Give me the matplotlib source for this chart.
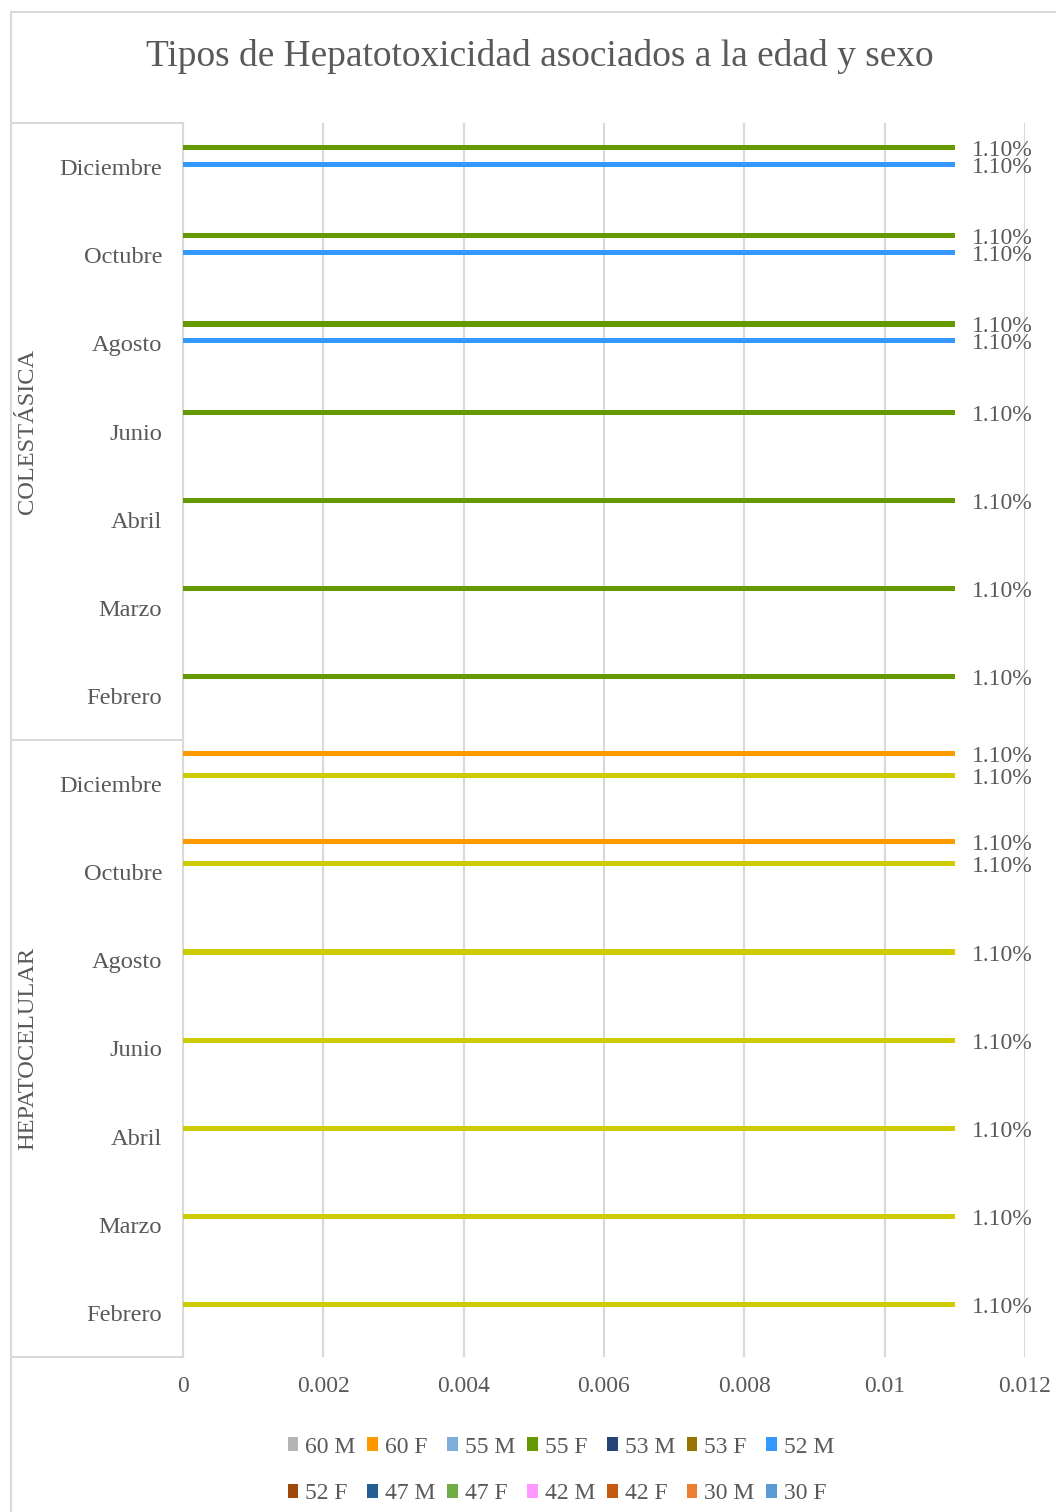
import numpy as np
import matplotlib
matplotlib.use("Agg")
import matplotlib.pyplot as plt
import matplotlib.transforms as mtransforms
from matplotlib.patches import Rectangle, Patch
from matplotlib.lines import Line2D

plt.rcParams["font.family"] = ["Liberation Serif", "DejaVu Serif"]

# ---- data -------------------------------------------------------------
title = "Tipos de Hepatotoxicidad asociados a la edad y sexo"
months = ["Febrero", "Marzo", "Abril", "Junio", "Agosto", "Octubre", "Diciembre"]
groups = ["HEPATOCELULAR", "COLESTÁSICA"]          # bottom group first
series = ["60 M", "60 F", "55 M", "55 F", "53 M", "53 F", "52 M",
          "52 F", "47 M", "47 F", "42 M", "42 F", "30 M", "30 F"]
series_colors = ["#B4B4B4", "#FF9900", "#7CAFDD", "#669900", "#264478",
                 "#997300", "#3399FF", "#9E480E", "#255E91", "#70AD47",
                 "#FF99FF", "#C55A11", "#ED7D31", "#5B9BD5"]
# bars of 53 F are filled with their own point colour
point_color_53F = "#CCCC00"

# values per category, bottom to top:
# HEPATOCELULAR Feb..Dic, then COLESTÁSICA Feb..Dic
v_60F = [0, 0, 0, 0, 0, 0.011, 0.011,
         0, 0, 0, 0, 0, 0, 0]
v_55F = [0, 0, 0, 0, 0, 0, 0,
         0.011, 0.011, 0.011, 0.011, 0.011, 0.011, 0.011]
v_53F = [0.011, 0.011, 0.011, 0.011, 0.011, 0.011, 0.011,
         0, 0, 0, 0, 0, 0, 0]
v_52M = [0, 0, 0, 0, 0, 0, 0,
         0, 0, 0, 0, 0.011, 0.011, 0.011]
values = {"60 F": v_60F, "55 F": v_55F, "53 F": v_53F, "52 M": v_52M}

x_ticks = [0, 0.002, 0.004, 0.006, 0.008, 0.01, 0.012]
x_tick_labels = ["0", "0.002", "0.004", "0.006", "0.008", "0.01", "0.012"]

# ---- figure -----------------------------------------------------------
W, H, DPI = 1056, 1512, 100
fig = plt.figure(figsize=(W / DPI, H / DPI), dpi=DPI)
txt = "#595959"
grid_c = "#D9D9D9"
fs = 17

left, right, top, bottom = 183, 1025, 123, 1357
ax = fig.add_axes([left / W, 1 - bottom / H, (right - left) / W, (bottom - top) / H])

n_cat = len(months) * len(groups)
cat_pos = np.arange(n_cat)
n_ser = len(series)
group_width = 0.88
slot = group_width / n_ser

for k, name in enumerate(series):
    if name not in values:
        continue
    vals = np.array(values[name], dtype=float)
    ypos = cat_pos + group_width / 2 - (k + 0.5) * slot
    col = point_color_53F if name == "53 F" else series_colors[k]
    mask = vals > 0
    ax.barh(ypos[mask], vals[mask], height=slot * 0.92, color=col, zorder=3)
    for y, v in zip(ypos[mask], vals[mask]):
        ax.annotate(f"{v:.2%}", xy=(v, y), xytext=(17, -3), textcoords="offset pixels",
                    ha="left", va="center", fontsize=fs, color=txt, zorder=4)

ax.set_xlim(0, 0.012)
ax.set_ylim(-0.5, n_cat - 0.5)
ax.set_xticks(x_ticks)
ax.set_xticklabels(x_tick_labels, fontsize=fs, color=txt)
ax.set_yticks(cat_pos)
ax.set_yticklabels(months * len(groups), fontsize=17.6, color=txt)
ax.tick_params(axis="both", length=0)
ax.tick_params(axis="y", pad=15)
ax.tick_params(axis="x", pad=14)
ax.grid(axis="x", color=grid_c, linewidth=1.5, zorder=0)
ax.set_axisbelow(True)
for s in ["top", "right", "bottom"]:
    ax.spines[s].set_visible(False)
ax.spines["left"].set_color(grid_c)
ax.spines["left"].set_linewidth(1.5)

# group separators and group labels in the category column
blend = mtransforms.blended_transform_factory(fig.transFigure, ax.transData)
for yb in [-0.5, len(months) - 0.5, n_cat - 0.5]:
    ax.add_line(Line2D([11 / W, left / W], [yb, yb], transform=blend,
                       color=grid_c, linewidth=1.5, clip_on=False))
for g, name in enumerate(groups):
    yc = g * len(months) + (len(months) - 1) / 2
    ax.text(28 / W, yc, name, transform=blend, rotation=90, ha="center",
            va="center", fontsize=17.6, color=txt)

# chart frame
fig.patches.append(Rectangle((11 / W, -0.1), 1.0, 1.1 - 12 / H,
                             transform=fig.transFigure, fill=False,
                             edgecolor=grid_c, linewidth=1.5))

fig.text(539.5 / W, 1 - 57 / H, title, ha="center", va="center",
         fontsize=26.9, color=txt)

# legend: two rows filled left to right
handles = [Patch(facecolor=c, edgecolor="none", label=s)
           for s, c in zip(series, series_colors)]
row1, row2 = handles[:7], handles[7:]
ordered = [h for pair in zip(row1, row2) for h in pair]
fig.legend(handles=ordered, ncol=7, loc="center",
           bbox_to_anchor=(561 / W, 1 - 1470.5 / H), frameon=False,
           fontsize=fs, labelcolor=txt, handlelength=0.45, handleheight=0.5,
           handletextpad=0.3, columnspacing=0.5, labelspacing=1.1,
           borderpad=0, borderaxespad=0)

fig.savefig("out.png", dpi=DPI)
